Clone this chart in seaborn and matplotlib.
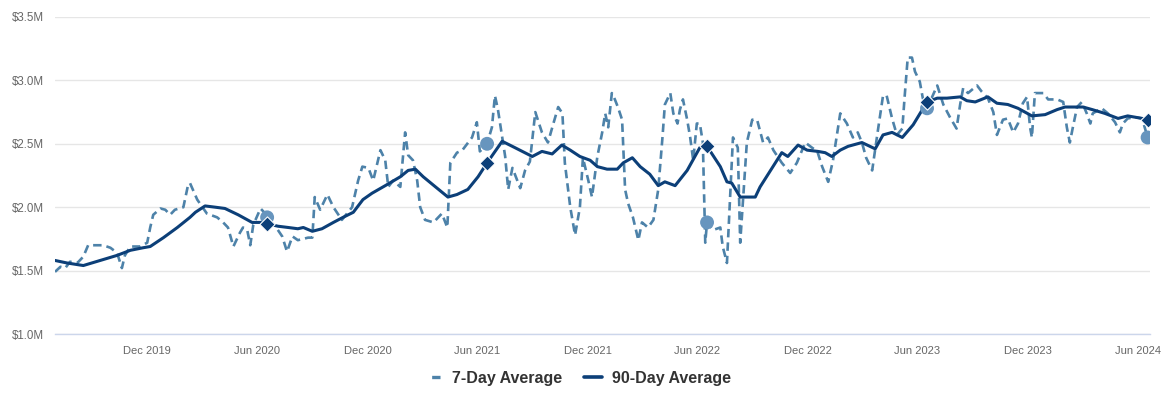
import pandas as pd
import matplotlib
matplotlib.use("Agg")
import matplotlib.pyplot as plt
import matplotlib.ticker as mticker
from matplotlib.lines import Line2D
import seaborn as sns

START = "2019-07-01"

# 7-day average: days since START, value in $M
day_7 = [0, 9, 17, 25, 37, 47, 55, 63, 80, 92, 103, 111, 116, 125, 141, 153, 158, 163, 175, 183,
         191, 199, 213, 221, 224, 236, 252, 269, 279, 287, 296, 307, 312, 319, 324, 329, 341, 349, 352, 367,
         377, 385, 394, 403, 420, 427, 431, 440, 452, 462, 476, 493, 503, 510, 520, 528, 540, 548, 553, 561,
         573, 581, 586, 594, 601, 606, 614, 628, 642, 651, 656, 667, 676, 692, 700, 705, 717, 725, 730, 735,
         747, 752, 759, 772, 780, 788, 797, 808, 818, 827, 835, 842, 846, 855, 863, 871, 876, 885, 891, 900,
         908, 913, 918, 924, 929, 934, 941, 943, 946, 951, 959, 968, 974, 984, 993, 1001, 1008, 1012, 1021, 1026,
         1033, 1037, 1042, 1049, 1054, 1059, 1065, 1070, 1075, 1079, 1082, 1092, 1104, 1108, 1115, 1125, 1133, 1137, 1148, 1157,
         1165, 1175, 1183, 1192, 1206, 1220, 1231, 1245, 1256, 1265, 1273, 1283, 1291, 1303, 1314, 1324, 1332, 1339, 1346, 1356,
         1365, 1374, 1380, 1389, 1397, 1406, 1410, 1415, 1422, 1427, 1435, 1440, 1447, 1464, 1474, 1485, 1496, 1502, 1507, 1515,
         1530, 1538, 1548, 1557, 1563, 1573, 1581, 1590, 1598, 1606, 1613, 1618, 1621, 1626, 1640, 1648, 1663, 1673, 1679, 1684,
         1689, 1696, 1704, 1712, 1718, 1722, 1737, 1747, 1759, 1767, 1772, 1780, 1792, 1804, 1813]
avg_7 = [1.49, 1.53, 1.52, 1.57, 1.56, 1.61, 1.70, 1.70, 1.70, 1.68, 1.64, 1.52, 1.62, 1.69, 1.69, 1.72, 1.84, 1.94, 1.99, 1.98,
         1.94, 1.98, 2.00, 2.18, 2.19, 2.06, 1.95, 1.92, 1.88, 1.84, 1.69, 1.80, 1.84, 1.82, 1.70, 1.86, 1.99, 1.95, 1.92, 1.84,
         1.77, 1.65, 1.77, 1.74, 1.76, 1.76, 2.08, 1.98, 2.10, 2.00, 1.90, 2.00, 2.21, 2.32, 2.31, 2.21, 2.45, 2.37, 2.16, 2.21,
         2.16, 2.59, 2.41, 2.37, 2.21, 2.00, 1.90, 1.88, 1.95, 1.84, 2.35, 2.43, 2.45, 2.55, 2.67, 2.44, 2.50, 2.63, 2.88, 2.77,
         2.40, 2.14, 2.31, 2.15, 2.29, 2.36, 2.75, 2.59, 2.51, 2.66, 2.79, 2.74, 2.35, 2.00, 1.78, 2.00, 2.39, 2.21, 2.08, 2.40,
         2.59, 2.74, 2.63, 2.90, 2.85, 2.79, 2.69, 2.47, 2.14, 2.03, 1.92, 1.74, 1.88, 1.84, 1.90, 2.14, 2.55, 2.81, 2.90, 2.74,
         2.66, 2.77, 2.85, 2.69, 2.55, 2.37, 2.66, 2.66, 2.51, 1.72, 1.88, 1.82, 1.84, 1.69, 1.56, 2.55, 2.47, 1.72, 2.51, 2.69,
         2.69, 2.51, 2.55, 2.45, 2.35, 2.27, 2.35, 2.51, 2.47, 2.44, 2.32, 2.20, 2.37, 2.74, 2.66, 2.55, 2.59, 2.51, 2.39, 2.29,
         2.59, 2.88, 2.88, 2.70, 2.57, 2.62, 2.88, 3.18, 3.18, 3.07, 2.99, 2.86, 2.78, 2.96, 2.81, 2.71, 2.62, 2.81, 2.94, 2.90,
         2.96, 2.91, 2.86, 2.75, 2.57, 2.69, 2.70, 2.59, 2.66, 2.82, 2.87, 2.63, 2.55, 2.90, 2.90, 2.85, 2.85, 2.83, 2.63, 2.51,
         2.63, 2.79, 2.83, 2.74, 2.66, 2.74, 2.78, 2.74, 2.67, 2.59, 2.66, 2.70, 2.71, 2.70, 2.55]

# 90-day average
day_90 = [0, 20, 47, 75, 103, 125, 146, 158, 180, 203, 224, 233, 249, 266, 282, 304, 327, 345, 352, 370,
          387, 403, 412, 427, 443, 462, 478, 495, 511, 526, 548, 573, 586, 598, 611, 634, 652, 667, 685, 702,
          717, 742, 763, 792, 808, 825, 841, 855, 871, 888, 900, 916, 933, 943, 958, 971, 987, 1001, 1012, 1029,
          1049, 1070, 1082, 1104, 1115, 1123, 1137, 1162, 1170, 1190, 1206, 1216, 1233, 1248, 1266, 1278, 1289, 1303, 1316, 1339,
          1361, 1374, 1389, 1406, 1424, 1447, 1464, 1480, 1502, 1513, 1527, 1548, 1563, 1581, 1598, 1621, 1643, 1663, 1676, 1706,
          1721, 1742, 1764, 1780, 1804, 1813]
avg_90 = [1.58, 1.56, 1.54, 1.58, 1.62, 1.66, 1.68, 1.69, 1.76, 1.84, 1.92, 1.96, 2.01, 2.00, 1.99, 1.94, 1.88, 1.88, 1.87, 1.85,
          1.84, 1.83, 1.84, 1.81, 1.83, 1.88, 1.92, 1.96, 2.06, 2.11, 2.17, 2.24, 2.29, 2.30, 2.24, 2.15, 2.08, 2.10, 2.14, 2.24,
          2.35, 2.52, 2.47, 2.40, 2.44, 2.42, 2.49, 2.45, 2.40, 2.37, 2.32, 2.30, 2.30, 2.35, 2.39, 2.32, 2.26, 2.17, 2.20, 2.17,
          2.29, 2.47, 2.48, 2.32, 2.20, 2.19, 2.08, 2.08, 2.16, 2.31, 2.43, 2.40, 2.49, 2.45, 2.44, 2.43, 2.40, 2.45, 2.48, 2.51,
          2.46, 2.57, 2.59, 2.55, 2.65, 2.83, 2.86, 2.86, 2.87, 2.84, 2.83, 2.87, 2.82, 2.81, 2.78, 2.72, 2.73, 2.77, 2.79, 2.79,
          2.77, 2.74, 2.70, 2.72, 2.70, 2.69]

# same day in each year, highlighted
mark_days = [352, 717, 1082, 1447, 1813]

tick_dates = ["2019-12-01", "2020-06-01", "2020-12-01", "2021-06-01", "2021-12-01",
              "2022-06-01", "2022-12-01", "2023-06-01", "2023-12-01", "2024-06-01"]
tick_labels = ["Dec 2019", "Jun 2020", "Dec 2020", "Jun 2021", "Dec 2021",
               "Jun 2022", "Dec 2022", "Jun 2023", "Dec 2023", "Jun 2024"]

C7 = "#4d82a9"
C90 = "#0c3f78"
CDOT = "#6795be"

start = pd.Timestamp(START)
df7 = pd.DataFrame({"date": start + pd.to_timedelta(day_7, unit="D"), "value": avg_7})
df90 = pd.DataFrame({"date": start + pd.to_timedelta(day_90, unit="D"), "value": avg_90})
mark_dates = start + pd.to_timedelta(mark_days, unit="D")
m7 = df7[df7["date"].isin(mark_dates)]
m90 = df90[df90["date"].isin(mark_dates)]

sns.set_style("white")
plt.rcParams["font.family"] = ["Liberation Sans", "DejaVu Sans"]

fig = plt.figure(figsize=(11.74, 4.01), dpi=100)
ax = fig.add_axes([55 / 1174, 67 / 401, 1095 / 1174, 317 / 401])

sns.lineplot(data=df7, x="date", y="value", ax=ax, color=C7, linewidth=1.9,
             linestyle=(0, (3.2, 1.9)), sort=True, zorder=3)
sns.lineplot(data=df90, x="date", y="value", ax=ax, color=C90, linewidth=2.2, zorder=4)
sns.scatterplot(data=m7, x="date", y="value", ax=ax, color=CDOT, s=100, marker="o",
                edgecolor="none", zorder=5)
sns.scatterplot(data=m90, x="date", y="value", ax=ax, color=C90, s=60, marker="D",
                edgecolor="white", linewidth=0.8, zorder=6)

ax.set_xlim(start, start + pd.Timedelta(days=1817))
ax.set_ylim(1.0, 3.5)
ax.yaxis.set_major_locator(mticker.MultipleLocator(0.5))
ax.yaxis.set_major_formatter(mticker.FuncFormatter(lambda v, p: f"${v:.1f}M"))
ax.set_xticks(pd.to_datetime(tick_dates))
ax.set_xticklabels(tick_labels)

ax.grid(axis="y", color="#e6e6e6", linewidth=1)
ax.grid(axis="x", visible=False)
for side in ["top", "right", "left"]:
    ax.spines[side].set_visible(False)
ax.spines["bottom"].set_color("#ccd6eb")
ax.spines["bottom"].set_linewidth(1)
ax.tick_params(axis="x", length=7, width=0.8, color="#ccd6eb", pad=2, labelsize=8, labelcolor="#666666")
ax.tick_params(axis="y", length=0, pad=8, labelsize=8.3, labelcolor="#666666")
ax.set_xlabel("")
ax.set_ylabel("")

handles = [Line2D([0], [0], color=C7, linewidth=2.4, linestyle=(10.5, (2.5, 10))),
           Line2D([0], [0], color=C90, linewidth=2.6)]
fig.legend(handles, ["7-Day Average", "90-Day Average"], loc="center", bbox_to_anchor=(0.492, 0.057),
           ncol=2, frameon=False, handlelength=1.1, columnspacing=1.4, handletextpad=0.6,
           prop={"weight": "bold", "size": 11.5}, labelcolor="#333333")

fig.savefig("out.png", dpi=100)
